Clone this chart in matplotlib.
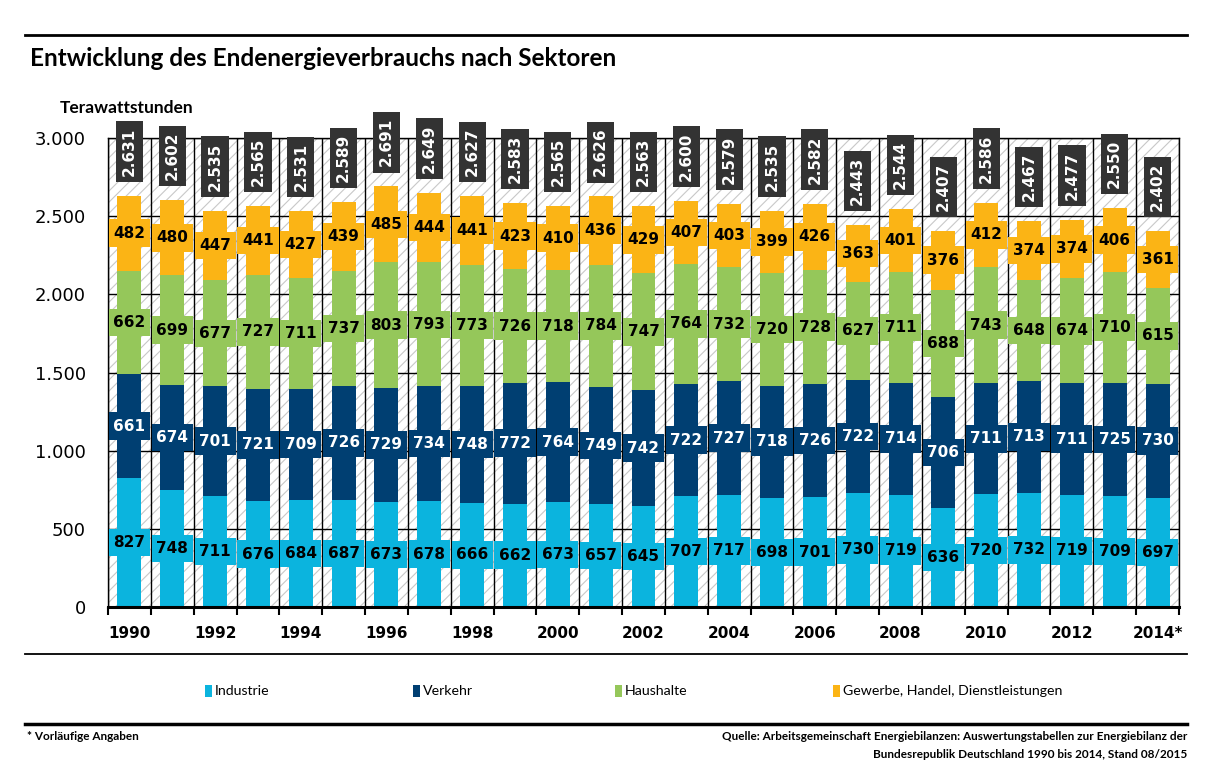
import matplotlib
matplotlib.use("Agg")
import matplotlib.pyplot as plt
from matplotlib.patches import Rectangle
from matplotlib.lines import Line2D
from matplotlib.ticker import FuncFormatter, MultipleLocator
import numpy as np

plt.rcParams["font.family"] = ["DejaVu Sans"]
plt.rcParams["hatch.linewidth"] = 0.8
NARROW = ["Lato", "DejaVu Sans"]

years = list(range(1990, 2015))
year_labels = ["1990", "", "1992", "", "1994", "", "1996", "", "1998", "", "2000", "", "2002",
               "", "2004", "", "2006", "", "2008", "", "2010", "", "2012", "", "2014*"]

industrie = [827, 748, 711, 676, 684, 687, 673, 678, 666, 662, 673, 657, 645,
             707, 717, 698, 701, 730, 719, 636, 720, 732, 719, 709, 697]
verkehr = [661, 674, 701, 721, 709, 726, 729, 734, 748, 772, 764, 749, 742,
           722, 727, 718, 726, 722, 714, 706, 711, 713, 711, 725, 730]
haushalte = [662, 699, 677, 727, 711, 737, 803, 793, 773, 726, 718, 784, 747,
             764, 732, 720, 728, 627, 711, 688, 743, 648, 674, 710, 615]
gewerbe = [482, 480, 447, 441, 427, 439, 485, 444, 441, 423, 410, 436, 429,
           407, 403, 399, 426, 363, 401, 376, 412, 374, 374, 406, 361]
totals = [2631, 2602, 2535, 2565, 2531, 2589, 2691, 2649, 2627, 2583, 2565, 2626, 2563,
          2600, 2579, 2535, 2582, 2443, 2544, 2407, 2586, 2467, 2477, 2550, 2402]

sectors = ["Industrie", "Verkehr", "Haushalte", "Gewerbe, Handel, Dienstleistungen"]
colors = ["#0bb4de", "#003f72", "#95c75a", "#fbb415"]
text_colors = ["black", "white", "black", "black"]
series = [industrie, verkehr, haushalte, gewerbe]

W, H = 1224, 775
fig = plt.figure(figsize=(W / 100, H / 100), dpi=100)
ax = fig.add_axes([108 / W, 1 - 607 / H, (1179 - 108) / W, (607 - 138) / H])

x = np.arange(len(years))
ax.set_xlim(-0.5, len(years) - 0.5)
ax.set_ylim(0, 3000)

# hatched background
ax.add_patch(Rectangle((0, 0), 1, 1, transform=ax.transAxes, facecolor="white",
                       edgecolor="#c8c8c8", hatch="///", lw=0, zorder=0))

# grid lines
for yv in range(500, 3001, 500):
    ax.axhline(yv, color="black", lw=1.0, zorder=1)
for b in np.arange(-0.5, len(years), 1.0):
    ax.axvline(b, color="black", lw=1.0, zorder=1)

bottom = np.zeros(len(years))
for vals, col, tcol in zip(series, colors, text_colors):
    vals = np.array(vals)
    ax.bar(x, vals, bottom=bottom, width=0.56, color=col, zorder=2, linewidth=0)
    centers = bottom + vals / 2
    for xi, c, v in zip(x, centers, vals):
        ax.add_patch(Rectangle((xi - 0.48, c - 88), 0.96, 176, facecolor=col, lw=0, zorder=3))
        ax.text(xi, c, f"{v}", ha="center", va="center", color=tcol, fontsize=11,
                fontweight="bold", zorder=4)
    bottom = bottom + vals

# total labels
for xi, top, t in zip(x, bottom, totals):
    s = f"{t:,}".replace(",", ".")
    ax.annotate(s, xy=(xi, top), xytext=(0, 20 * 0.72), textcoords="offset points",
                rotation=90, ha="center", va="bottom", color="white", fontsize=11,
                fontweight="bold", zorder=5, annotation_clip=False,
                bbox=dict(boxstyle="square,pad=0.4", fc="#333333", ec="none"))

# axes styling
for side in ["top", "right", "left"]:
    ax.spines[side].set_linewidth(1.0)
ax.spines["bottom"].set_linewidth(2.2)
ax.spines["bottom"].set_zorder(6)
ax.yaxis.set_major_locator(MultipleLocator(500))
ax.yaxis.set_major_formatter(FuncFormatter(lambda v, p: f"{int(v):,}".replace(",", ".")))
ax.tick_params(axis="y", length=0, pad=16, labelsize=13)
ax.set_xticks(x)
ax.set_xticklabels(year_labels, fontweight="bold", fontsize=11)
ax.tick_params(axis="x", which="major", length=0, pad=14)
ax.set_xticks(np.arange(-0.5, len(years), 1.0), minor=True)
ax.tick_params(axis="x", which="minor", length=6, width=1.5, direction="out")

# title and header
fig.text(30 / W, 1 - 58 / H, "Entwicklung des Endenergieverbrauchs nach Sektoren",
         fontsize=17.5, fontweight="bold", va="center", ha="left", family=NARROW)
fig.text(60 / W, 1 - 108 / H, "Terawattstunden", fontsize=12.5, fontweight="bold",
         va="center", ha="left", family=NARROW)

# rules
for yy, lw in [(35, 2.0), (654, 1.3), (724, 2.5)]:
    fig.add_artist(Line2D([25 / W, 1187 / W], [1 - yy / H, 1 - yy / H], color="black",
                          lw=lw, transform=fig.transFigure))

# legend
leg_x = [205, 413, 615, 833]
for lx, name, col in zip(leg_x, sectors, colors):
    fig.add_artist(Rectangle((lx / W, 1 - 697 / H), 7 / W, 12 / H, facecolor=col, lw=0,
                             transform=fig.transFigure))
    fig.text((lx + 10) / W, 1 - 691 / H, name, fontsize=10.2, va="center", ha="left",
             family=NARROW)

# footer
fig.text(27 / W, 1 - 737 / H, "* Vorläufige Angaben", fontsize=8.5, fontweight="bold",
         va="center", ha="left", family=NARROW)
fig.text(1187 / W, 1 - 737 / H,
         "Quelle: Arbeitsgemeinschaft Energiebilanzen: Auswertungstabellen zur Energiebilanz der",
         fontsize=8.5, fontweight="bold", va="center", ha="right", family=NARROW)
fig.text(1187 / W, 1 - 755 / H, "Bundesrepublik Deutschland 1990 bis 2014, Stand 08/2015",
         fontsize=8.5, fontweight="bold", va="center", ha="right", family=NARROW)

fig.savefig("out.png", dpi=100)
